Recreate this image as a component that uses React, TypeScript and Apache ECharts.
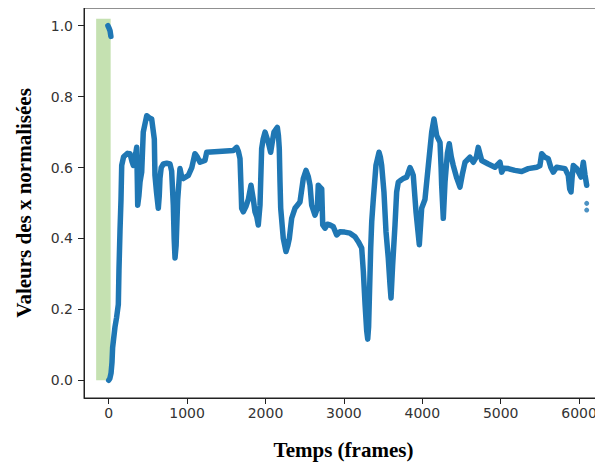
import React, { useEffect, useRef } from "react";
import * as echarts from "echarts";

// Points near the top at the very start
const topFrames = [-10, 5, 18, 28];
const topValues = [1.0, 0.993, 0.985, 0.97];

// Main trajectory
const mainFrames = [
  0, 15, 30, 42, 50, 80, 100, 123, 131, 144, 157, 166, 190, 208, 240, 272, 300, 314, 345, 357,
  362, 366, 370, 385, 400, 421, 441, 460, 485, 520, 548, 582, 590, 610, 633, 645, 654, 670, 697, 740,
  782, 803, 824, 835, 846, 860, 880, 909, 930, 952, 1016, 1060, 1100, 1130, 1165, 1228, 1250, 1400, 1590, 1633,
  1655, 1675, 1690, 1696, 1717, 1750, 1781, 1815, 1830, 1845, 1866, 1890, 1908, 1930, 1951, 1970, 1994, 2036, 2066, 2085,
  2108, 2151, 2165, 2176, 2185, 2194, 2227, 2261, 2285, 2304, 2334, 2376, 2440, 2482, 2517, 2545, 2568, 2589, 2631, 2661,
  2673, 2695, 2717, 2730, 2759, 2790, 2823, 2865, 2908, 2950, 3010, 3078, 3142, 3184, 3227, 3248, 3270, 3291, 3304, 3315,
  3325, 3342, 3355, 3375, 3409, 3448, 3465, 3482, 3511, 3537, 3566, 3588, 3601, 3622, 3652, 3673, 3694, 3730, 3758, 3801,
  3843, 3865, 3885, 3920, 3945, 3962, 3992, 4034, 4077, 4120, 4149, 4184, 4226, 4240, 4247, 4268, 4290, 4320, 4344, 4370,
  4395, 4440, 4481, 4510, 4545, 4608, 4651, 4690, 4714, 4740, 4758, 4842, 4927, 4991, 5013, 5040, 5097, 5180, 5268, 5352,
  5459, 5500, 5523, 5560, 5607, 5640, 5671, 5714, 5820, 5862, 5880, 5897, 5910, 5926, 5969, 6024, 6054, 6075, 6097,
];
const mainValues = [
  0.0, 0.005, 0.02, 0.05, 0.092, 0.15, 0.176, 0.214, 0.31, 0.42, 0.51, 0.606, 0.63, 0.634, 0.64, 0.639, 0.615, 0.606, 0.64, 0.657,
  0.6, 0.55, 0.494, 0.52, 0.56, 0.587, 0.7, 0.72, 0.746, 0.74, 0.737, 0.68, 0.578, 0.53, 0.485, 0.52, 0.569, 0.6, 0.61, 0.612,
  0.61, 0.59, 0.494, 0.4, 0.345, 0.38, 0.51, 0.597, 0.575, 0.569, 0.578, 0.6, 0.639, 0.63, 0.615, 0.62, 0.643, 0.645, 0.648, 0.657,
  0.645, 0.625, 0.53, 0.485, 0.475, 0.49, 0.51, 0.55, 0.53, 0.51, 0.475, 0.46, 0.438, 0.494, 0.653, 0.68, 0.7, 0.671, 0.643, 0.67,
  0.7, 0.713, 0.69, 0.653, 0.56, 0.485, 0.4, 0.363, 0.38, 0.4, 0.457, 0.485, 0.503, 0.569, 0.592, 0.575, 0.55, 0.494, 0.466, 0.485,
  0.55, 0.545, 0.54, 0.438, 0.429, 0.44, 0.438, 0.433, 0.41, 0.419, 0.418, 0.415, 0.405, 0.391, 0.373, 0.307, 0.214, 0.139, 0.116, 0.15,
  0.232, 0.373, 0.447, 0.51, 0.606, 0.643, 0.63, 0.606, 0.531, 0.419, 0.345, 0.27, 0.232, 0.326, 0.438, 0.531, 0.559, 0.565, 0.569, 0.573,
  0.6, 0.59, 0.578, 0.475, 0.42, 0.382, 0.485, 0.51, 0.606, 0.7, 0.737, 0.69, 0.671, 0.6, 0.55, 0.457, 0.559, 0.64, 0.667, 0.63,
  0.606, 0.57, 0.545, 0.58, 0.615, 0.629, 0.615, 0.63, 0.657, 0.635, 0.62, 0.61, 0.601, 0.615, 0.587, 0.598, 0.597, 0.592, 0.589, 0.597,
  0.601, 0.605, 0.639, 0.63, 0.625, 0.6, 0.587, 0.601, 0.597, 0.578, 0.54, 0.531, 0.57, 0.606, 0.597, 0.573, 0.615, 0.58, 0.55,
];

// Isolated points at the end
const outlierFrames = [6097, 6097];
const outlierValues = [0.499, 0.48];

// Highlighted span
const spanFrames = [-160, 25];
const spanValues = [0, 1.02];

const xTicks = [0, 1000, 2000, 3000, 4000, 5000, 6000];
const yTicks = [0, 0.2, 0.4, 0.6, 0.8, 1.0];

const BLUE = "#1f77b4";

export default function App() {
  const ref = useRef<HTMLDivElement>(null);
  useEffect(() => {
    if (!ref.current) return;
    const chart = echarts.init(ref.current, null, { renderer: "svg" });
    const zip = (a: number[], b: number[]) => a.map((v, i) => [v, b[i]]);
    const tickLabelStyle = {
      color: "#333",
      fontSize: 14,
      fontFamily: "DejaVu Sans",
    };
    const nameStyle = {
      color: "#000",
      fontSize: 21,
      fontWeight: "bold" as const,
      fontFamily: "Liberation Serif",
    };
    chart.setOption({
      animation: false,
      backgroundColor: "#fff",
      grid: {
        left: 84,
        top: 8,
        right: 0,
        bottom: 65,
        show: true,
        borderColor: "#222",
        borderWidth: 1,
        backgroundColor: "transparent",
      },
      xAxis: {
        type: "value",
        min: -315,
        max: 6305,
        name: "Temps (frames)",
        nameLocation: "middle",
        nameGap: 41,
        nameTextStyle: nameStyle,
        axisLine: { show: true, onZero: false, lineStyle: { color: "#222", width: 1 } },
        axisTick: { show: true, length: 6, customValues: xTicks, lineStyle: { color: "#222" } },
        axisLabel: {
          ...tickLabelStyle,
          margin: 8,
          customValues: xTicks,
          formatter: (v: number) => String(v),
        },
        splitLine: { show: false },
      },
      yAxis: {
        type: "value",
        min: -0.05,
        max: 1.05,
        name: "Valeurs des x normalisées",
        nameLocation: "middle",
        nameGap: 50,
        nameRotate: 90,
        nameTextStyle: nameStyle,
        axisLine: { show: true, onZero: false, lineStyle: { color: "#222", width: 1 } },
        axisTick: { show: true, length: 6, customValues: yTicks, lineStyle: { color: "#222" } },
        axisLabel: {
          ...tickLabelStyle,
          margin: 11,
          customValues: yTicks,
          formatter: (v: number) => v.toFixed(1),
        },
        splitLine: { show: false },
      },
      series: [
        {
          type: "line",
          data: zip(topFrames, topValues),
          symbol: "none",
          lineStyle: { color: BLUE, width: 5.5, cap: "round", join: "round" },
          z: 2,
        },
        {
          type: "line",
          data: zip(mainFrames, mainValues),
          symbol: "none",
          lineStyle: { color: BLUE, width: 5.5, cap: "round", join: "round" },
          z: 2,
        },
        {
          type: "scatter",
          data: zip(outlierFrames, outlierValues),
          symbolSize: 5,
          itemStyle: { color: BLUE },
          z: 2,
        },
        {
          type: "scatter",
          data: [],
          z: 3,
          markArea: {
            silent: true,
            itemStyle: { color: "rgba(140,196,100,0.5)" },
            data: [
              [
                { coord: [spanFrames[0], spanValues[0]] },
                { coord: [spanFrames[1], spanValues[1]] },
              ],
            ],
          },
        },
      ],
    });
    return () => chart.dispose();
  }, []);
  return <div ref={ref} style={{ width: 603, height: 465, marginLeft: -8, marginTop: -8 }} />;
}
